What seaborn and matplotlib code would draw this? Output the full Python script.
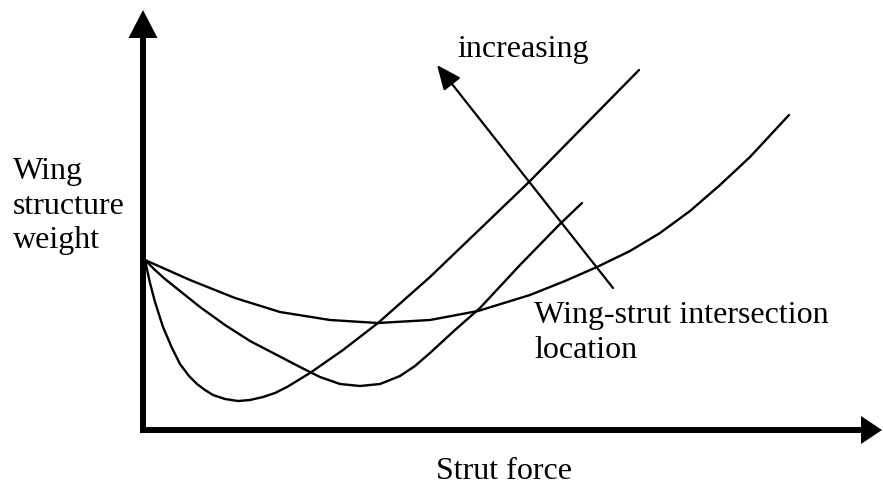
import matplotlib
matplotlib.use("Agg")
import matplotlib.pyplot as plt
import pandas as pd
import seaborn as sns

sns.set_theme(style="white")
plt.rcParams["font.family"] = ["Liberation Serif", "DejaVu Serif"]

# Schematic curves: wing structure weight vs. strut force for three
# wing-strut intersection locations (origin at the axes corner).
force_inboard = [0.00, 0.05, 0.10, 0.18, 0.27, 0.35, 0.44, 0.52, 0.60, 0.68, 0.80,
                 0.93, 1.05, 1.18, 1.30, 1.42, 1.65, 1.98, 2.33, 2.85, 3.84, 4.94]
weight_inboard = [1.70, 1.47, 1.28, 1.03, 0.82, 0.66, 0.54, 0.46, 0.40, 0.35, 0.31,
                  0.29, 0.30, 0.33, 0.37, 0.43, 0.57, 0.80, 1.07, 1.53, 2.48, 3.60]

force_mid = [0.00, 0.10, 0.20, 0.35, 0.55, 0.80, 1.05, 1.30, 1.55, 1.75, 1.95,
             2.15, 2.35, 2.55, 2.70, 2.85, 3.10, 3.35, 3.75, 4.15, 4.37]
weight_mid = [1.70, 1.60, 1.51, 1.39, 1.23, 1.05, 0.89, 0.76, 0.63, 0.53, 0.46,
              0.44, 0.46, 0.54, 0.64, 0.77, 1.00, 1.22, 1.65, 2.06, 2.27]

force_outboard = [0.00, 0.45, 0.90, 1.35, 1.85, 2.33, 2.85, 3.33, 3.85, 4.20,
                  4.52, 4.85, 5.15, 5.45, 5.75, 6.05, 6.44]
weight_outboard = [1.70, 1.50, 1.32, 1.18, 1.10, 1.07, 1.10, 1.19, 1.35, 1.49,
                   1.63, 1.79, 1.97, 2.19, 2.45, 2.73, 3.15]

df = pd.concat([
    pd.DataFrame({"force": force_inboard, "weight": weight_inboard, "curve": "inboard"}),
    pd.DataFrame({"force": force_mid, "weight": weight_mid, "curve": "mid"}),
    pd.DataFrame({"force": force_outboard, "weight": weight_outboard, "curve": "outboard"}),
], ignore_index=True)

# Direction arrow for "increasing" intersection location
trend_tail = (4.68, 1.42)
trend_tip = (2.92, 3.65)

W, H = 883, 486
fig = plt.figure(figsize=(W / 100, H / 100), dpi=100)
ax = fig.add_axes([0, 0, 1, 1])
ax.set_xlim(-1.45, 7.38)
ax.set_ylim(-0.56, 4.30)
ax.axis("off")

sns.lineplot(data=df, x="force", y="weight", units="curve", estimator=None,
             sort=False, color="black", linewidth=1.7, ax=ax, legend=False)

# Axes drawn as thick arrows
ax.arrow(-0.02, -0.02, 0, 4.22, width=0.06, head_width=0.29, head_length=0.28,
         length_includes_head=True, color="black", linewidth=0)
ax.arrow(-0.05, 0.0, 7.42, 0, width=0.06, head_width=0.28, head_length=0.21,
         length_includes_head=True, color="black", linewidth=0)

ax.annotate("", xy=trend_tip, xytext=trend_tail,
            arrowprops=dict(arrowstyle="-|>,head_length=15,head_width=6.5",
                            mutation_scale=1, color="black", lw=1.6,
                            shrinkA=0, shrinkB=0))

fs = 23
ax.text(3.12, 3.73, "increasing", fontsize=fs, ha="left", va="baseline",
        color="black")
ax.text(3.89, 0.72, "Wing-strut intersection\nlocation", fontsize=fs,
        ha="left", va="baseline", linespacing=1.28, color="black")
ax.text(-1.32, 1.82, "Wing\nstructure\nweight", fontsize=fs, ha="left",
        va="baseline", linespacing=1.24, color="black")
ax.text(3.595, -0.49, "Strut force", fontsize=fs, ha="center", va="baseline",
        color="black")

fig.savefig("out.png", dpi=100)
